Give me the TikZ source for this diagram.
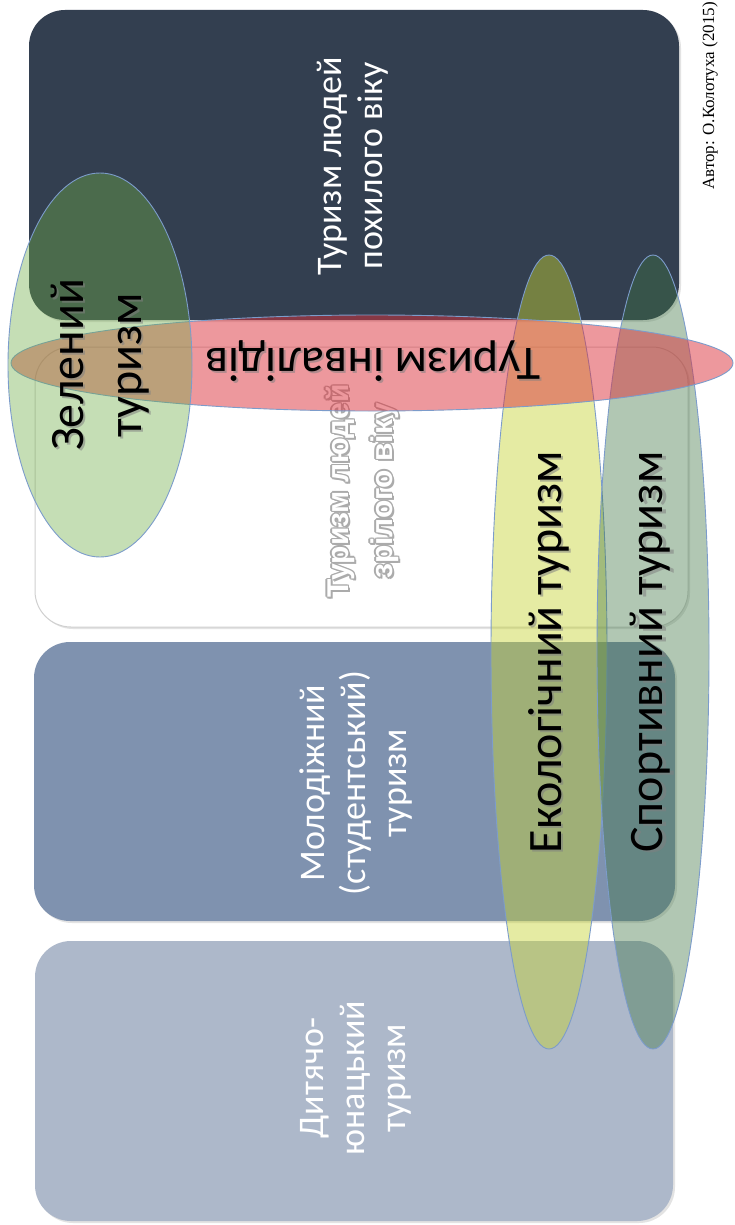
\documentclass[tikz,border=0pt]{standalone}
\usepackage{fontspec}
\setmainfont{Carlito}
\newfontfamily\authorfont{Liberation Serif}
\newfontfamily\heavyfont{Liberation Sans}
\usetikzlibrary{shapes.geometric,shadows}

\definecolor{navybox}{HTML}{333F50}
\definecolor{youthbox}{HTML}{7F92AF}
\definecolor{kidsbox}{HTML}{ADB8CA}
\definecolor{paleline}{HTML}{D0D0D0}
\definecolor{ringline}{HTML}{7C9CCB}
\definecolor{ecofill}{HTML}{C6D333}
\definecolor{sportfill}{HTML}{3E7543}
\definecolor{rosefill}{HTML}{DC323C}
\definecolor{greenfill}{HTML}{70AD47}
\definecolor{rimgray}{HTML}{ABABAB}

\tikzset{
  panel/.style={rectangle, rounded corners=36pt, inner sep=0pt,
    drop shadow={opacity=0.22, shadow xshift=2pt, shadow yshift=-2pt}},
  ring/.style={ellipse, inner sep=0pt, draw=ringline, line width=0.9pt},
  boxtext/.style={text=white, align=center, inner sep=0pt, rotate=90,
    font=\fontsize{36}{41}\selectfont},
  rimtext/.style={text=white, align=center, inner sep=0pt, rotate=90,
    font=\heavyfont\bfseries\fontsize{30}{44}\selectfont},
  bigtext/.style={align=center, inner sep=0pt, text=black,
    font=\fontsize{48}{58}\selectfont},
  textshade/.style={text=black!50, text opacity=0.55},
}

\begin{document}
\begin{tikzpicture}[x=1pt, y=-1pt]
\useasboundingbox (0,0) rectangle (734,1225);
\fill[white] (0,0) rectangle (734,1225);

% age-group panels
\node[panel, fill=navybox, minimum width=650pt, minimum height=310pt] (elder) at (354,165) {};
\node[panel, fill=white, draw=paleline, line width=1pt, minimum width=653pt, minimum height=280pt] (mature) at (361.5,487) {};
\node[panel, fill=youthbox, minimum width=641pt, minimum height=279pt] (youth) at (354.5,781.5) {};
\node[panel, fill=kidsbox, minimum width=638pt, minimum height=280pt] (kids) at (354,1081) {};

% panel captions
\node[boxtext] (elderlabel) at (353,166) {Туризм людей\\похилого віку};
% outlined white lettering: a grey rim underneath, white on top
\foreach \dx/\dy [count=\i] in {-1.4/0, 1.4/0, 0/-1.4, 0/1.4, -1/-1, 1/1, -1/1, 1/-1, 2/2} {
  \node[rimtext, text=rimgray] (maturerim\i) at (362+\dx,491+\dy) {Туризм людей\\зрілого віку};
}
\node[rimtext] (maturelabel) at (362,491) {Туризм людей\\зрілого віку};
\node[boxtext] (youthlabel) at (356,783) {Молодіжний\\(студентський)\\туризм};
\node[boxtext] (kidslabel) at (356,1078) {Дитячо-\\юнацький\\туризм};

% overlapping tourism kinds
\node[ring, fill=ecofill, fill opacity=0.45, minimum width=116pt, minimum height=794pt] (eco) at (549,652) {};
\node[ring, fill=sportfill, fill opacity=0.4, minimum width=112pt, minimum height=794pt] (sport) at (653,652) {};
\node[ring, fill=rosefill, fill opacity=0.5, minimum width=722pt, minimum height=96pt] (access) at (372,363) {};
\node[ring, fill=greenfill, fill opacity=0.4, minimum width=184pt, minimum height=384pt] (green) at (100,365) {};

% captions of the kinds, each with a soft shadow
\node[bigtext, textshade, rotate=90] (greenshade) at ([shift={(2,2)}]green.center) {Зелений\\туризм};
\node[bigtext, rotate=90] (greentext) at (green.center) {Зелений\\туризм};
\node[bigtext, textshade, rotate=180] (accessshade) at ([shift={(3,0)}]access.center) {Туризм інвалідів};
\node[bigtext, rotate=180] (accesslabel) at ([shift={(1,-2)}]access.center) {Туризм інвалідів};
\node[bigtext, textshade, rotate=90] (ecoshade) at ([shift={(2,2)}]eco.center) {Екологічний туризм};
\node[bigtext, rotate=90] (ecolabel) at (eco.center) {Екологічний туризм};
\node[bigtext, textshade, rotate=90] (sportshade) at ([shift={(1,2)}]sport.center) {Спортивний туризм};
\node[bigtext, rotate=90] (sportlabel) at ([shift={(-3,0)}]sport.center) {Спортивний туризм};

% source note
\begin{scope}
\clip (0,0) rectangle (734,1225);
\node[rotate=90, anchor=base west, inner sep=0pt, font=\authorfont\fontsize{17}{20}\selectfont] (author) at (714,190) {Автор: О.Колотуха (2015)};
\end{scope}
\end{tikzpicture}
\end{document}
